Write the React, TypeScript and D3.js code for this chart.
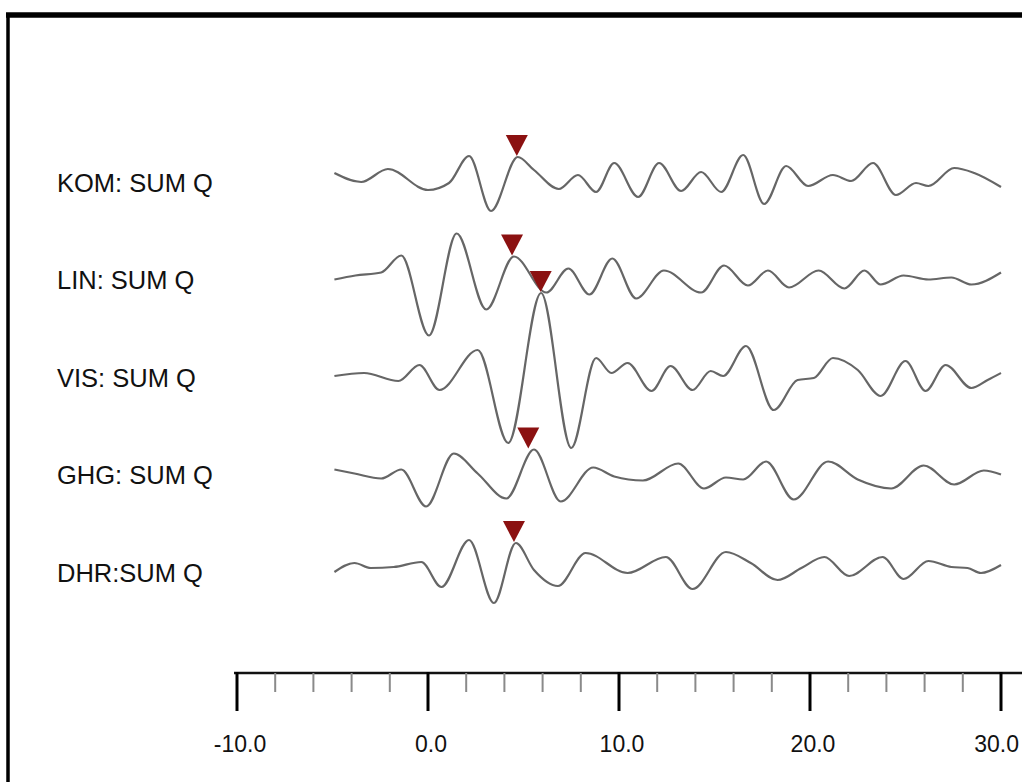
import React from "react";
import * as d3 from "d3";

// station traces, time in seconds, amplitude in counts (up = positive)
const stations = ["KOM: SUM Q", "LIN: SUM Q", "VIS: SUM Q", "GHG: SUM Q", "DHR:SUM Q"];

const komTime = [-4.9, -3.5, -2.1, 0.0, 1.1, 2.15, 3.3, 4.7, 5.55, 6.85, 7.85, 8.8, 9.75, 11.0, 12.1, 13.25, 14.3, 15.35, 16.5, 17.6, 18.75, 19.9, 21.2, 22.15, 23.3, 24.5, 25.55, 26.2, 27.55, 28.6, 30.0];
const komAmp = [7, -2, 11, -10, -3, 24, -31, 23, 10, -9, 5, -12, 17, -17, 17, -11, 8, -12, 25, -24, 14, -6, 5, -1, 17, -15, -3, -6, 12, 7, -7];

const linTime = [-4.9, -3.8, -2.45, -1.4, 0.05, 1.5, 3.05, 4.5, 6.2, 7.35, 8.45, 9.65, 10.9, 12.35, 14.3, 15.5, 16.75, 17.8, 18.9, 20.45, 21.8, 22.85, 23.7, 24.9, 26.2, 27.4, 28.45, 30.0];
const linAmp = [-2, 2, 5, 22, -58, 44, -32, 21, -15, 9, -17, 19, -21, 7, -15, 12, -8, 7, -10, 7, -11, 7, -7, 2, -2, 0, -7, 5];

const visTime = [-4.9, -3.35, -1.55, -0.45, 0.6, 2.6, 4.2, 5.92, 7.5, 8.8, 9.6, 10.45, 11.7, 12.7, 13.85, 14.8, 15.45, 16.65, 18.1, 19.35, 20.2, 21.2, 22.5, 23.7, 25.0, 26.05, 27.1, 28.45, 29.3, 30.0];
const visAmp = [-1, 2, -6, 10, -15, 25, -68, 82, -73, 17, 2, 12, -16, 9, -15, 4, -1, 29, -35, -5, -3, 17, 5, -21, 14, -16, 10, -13, -5, 2];

const ghgTime = [-4.9, -3.85, -2.45, -1.4, -0.1, 1.35, 2.6, 4.1, 5.55, 6.95, 8.65, 9.75, 11.25, 13.1, 14.45, 15.6, 16.5, 17.7, 19.15, 20.95, 22.5, 24.25, 25.95, 27.55, 29.1, 30.0];
const ghgAmp = [3, -1, -6, 3, -34, 19, -1, -26, 23, -29, 5, -4, -8, 9, -16, -5, -7, 11, -27, 11, -7, -16, 7, -12, 2, -2];

const dhrTime = [-4.9, -3.85, -3.0, -1.8, -0.35, 0.7, 2.15, 3.45, 4.6, 5.55, 6.8, 8.25, 10.45, 12.45, 13.85, 15.6, 16.9, 18.3, 19.55, 20.75, 22.05, 23.8, 24.9, 26.2, 27.4, 28.25, 28.95, 30.0];
const dhrAmp = [-2, 7, 2, 3, 8, -17, 30, -33, 27, 0, -16, 17, -3, 13, -19, 18, 7, -10, 2, 13, -6, 13, -9, 9, 3, 2, -3, 5];

const traceTimes = [komTime, linTime, visTime, ghgTime, dhrTime];
const traceAmps = [komAmp, linAmp, visAmp, ghgAmp, dhrAmp];

// picked arrivals (s)
const pickTimes = [4.65, 4.4, 5.9, 5.25, 4.5];

const majorTicks = [-10, 0, 10, 20, 30];
const tickLabels = ["-10.0", "0.0", "10.0", "20.0", "30.0"];

export default function App() {
  const width = 1022;
  const height = 782;

  const x = d3.scaleLinear().domain([-10, 30]).range([237, 1001]);
  const row = d3.scalePoint<string>().domain(stations).range([180, 570]);
  const amp = d3.scaleLinear().domain([-100, 100]).range([100, -100]);

  const minorTicks = x.ticks(20).filter((d) => d % 10 !== 0);

  const line = d3
    .line<[number, number]>()
    .x((d) => x(d[0]))
    .y((d) => amp(d[1]))
    .curve(d3.curveMonotoneX);

  const bis = d3.bisector((d: number) => d).center;
  const font = "Liberation Sans, Arial, sans-serif";

  return (
    <div style={{ position: "absolute", left: 0, top: 0 }}>
      <svg width={width} height={height} style={{ display: "block", background: "#fff" }}>
        {/* frame */}
        <line x1={6} x2={width} y1={15} y2={15} stroke="#000" strokeWidth={5.5} />
        <line x1={8} x2={8} y1={13} y2={height} stroke="#000" strokeWidth={3.5} />

        {stations.map((s, i) => {
          const y0 = row(s)!;
          const pts = traceTimes[i].map((t, j) => [t, traceAmps[i][j]] as [number, number]);
          const k = bis(traceTimes[i], pickTimes[i]);
          const px = x(pickTimes[i]);
          const py = y0 + amp(traceAmps[i][k]) - 1;
          return (
            <g key={s}>
              <text
                x={57}
                y={y0 + 5}
                dominantBaseline="middle"
                fontFamily={font}
                fontSize={25.5}
                fill="#111"
              >
                {s}
              </text>
              <path
                d={line(pts) || ""}
                transform={`translate(0,${y0})`}
                fill="none"
                stroke="#666"
                strokeWidth={2.2}
                strokeLinejoin="round"
              />
              <path
                d={`M${px - 11},${py - 21}L${px + 11},${py - 21}L${px},${py}Z`}
                fill="#8b1111"
              />
            </g>
          );
        })}

        {/* time axis */}
        <g>
          <line x1={234} x2={width} y1={673} y2={673} stroke="#111" strokeWidth={2.5} />
          {minorTicks.map((t) => (
            <line key={"m" + t} x1={x(t)} x2={x(t)} y1={673} y2={692} stroke="#8a8a8a" strokeWidth={2} />
          ))}
          {majorTicks.map((t, i) => {
            const last = i === majorTicks.length - 1;
            return (
              <g key={"M" + t}>
                <line x1={x(t)} x2={x(t)} y1={672} y2={711} stroke="#000" strokeWidth={3} />
                <text
                  x={last ? width - 3 : x(t) + 3}
                  y={752}
                  textAnchor={last ? "end" : "middle"}
                  fontFamily={font}
                  fontSize={23}
                  fill="#111"
                >
                  {tickLabels[i]}
                </text>
              </g>
            );
          })}
        </g>
      </svg>
    </div>
  );
}
